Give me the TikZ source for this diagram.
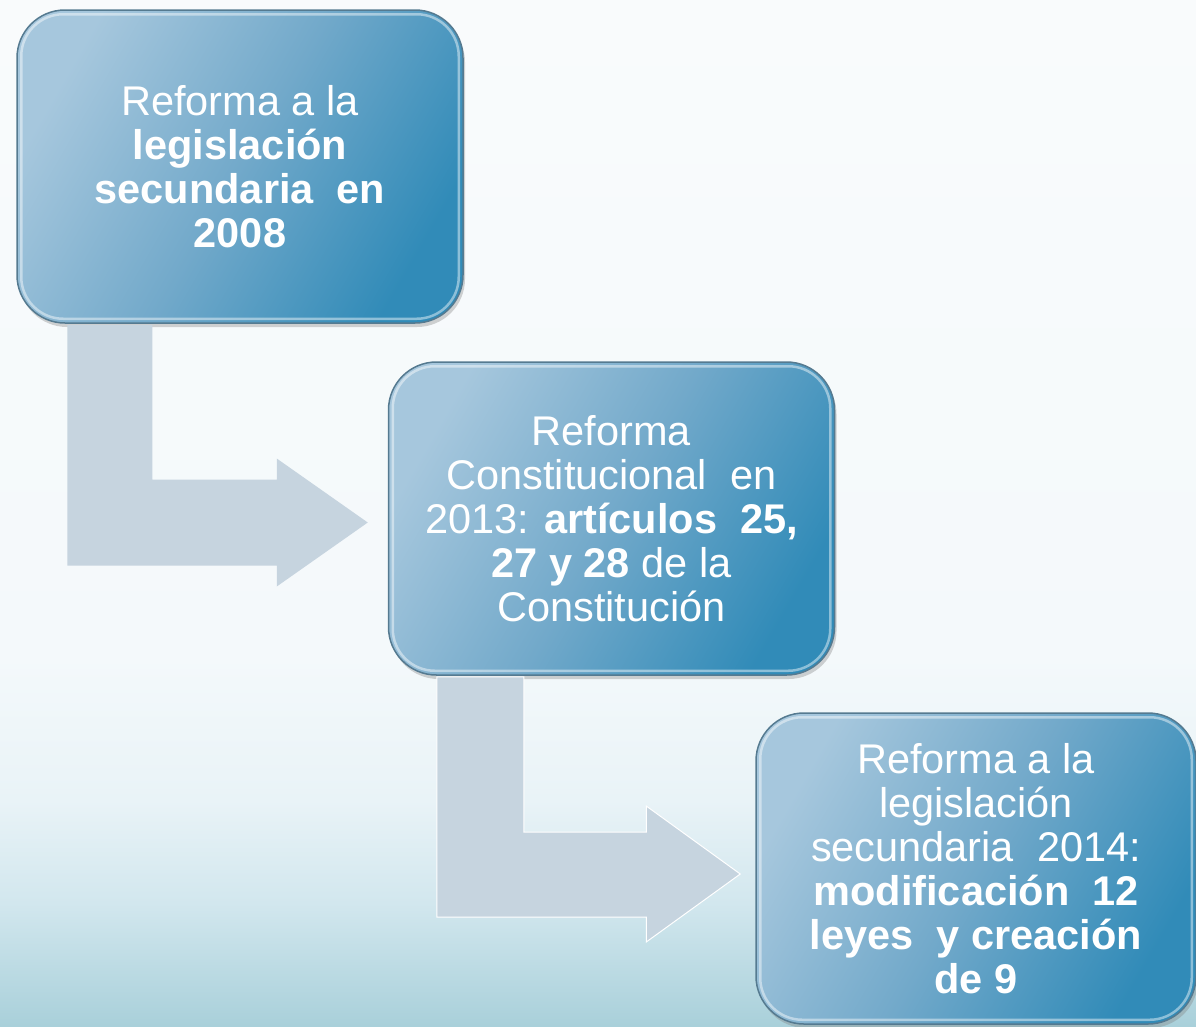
\documentclass[tikz,border=0pt]{standalone}
\usepackage{fontspec}
\setmainfont{Liberation Sans}
\usetikzlibrary{calc,shadows}
\definecolor{bgtop}{HTML}{F9FBFC}
\definecolor{bgmid}{HTML}{F4F9FB}
\definecolor{bglow}{HTML}{E9F3F7}
\definecolor{bglow2}{HTML}{D2E7EE}
\definecolor{bgbot}{HTML}{A9D0DA}
\definecolor{bxlight}{HTML}{A6C7DD}
\definecolor{bxmid}{HTML}{72A9CA}
\definecolor{bxdark}{HTML}{318BB8}
\definecolor{bxedge}{HTML}{557A90}
\definecolor{arrowc}{HTML}{C6D4DF}
\pgfdeclareverticalshading{bgsh}{100bp}{color(0bp)=(bgbot); color(25bp)=(bgbot); color(31bp)=(bglow2); color(36bp)=(bglow); color(43bp)=(bgmid); color(75bp)=(bgtop); color(100bp)=(bgtop)}
\pgfdeclarehorizontalshading{boxsh}{100bp}{color(0bp)=(bxlight); color(25bp)=(bxlight); color(50bp)=(bxmid); color(75bp)=(bxdark); color(100bp)=(bxdark)}
\tikzset{
  stagebox/.style={rectangle, rounded corners=48pt, minimum width=446pt, minimum height=313pt,
    inner sep=0pt, shade, shading=boxsh, shading angle=-30, draw=bxedge, line width=1.5pt,
    drop shadow={shadow xshift=2pt, shadow yshift=-4pt, opacity=.35},
    text=white, align=center, font=\fontsize{41.5}{44}\selectfont},
  bevel/.style={white, opacity=.45, line width=2.5pt, rounded corners=42pt},
  bentarrow/.style={fill=arrowc}
}
\begin{document}
\begin{tikzpicture}[x=1pt,y=-1pt]
\useasboundingbox (0,0) rectangle (1196,1026);
\clip (0,0) rectangle (1196,1026);
\shade[shading=bgsh] (0,0) rectangle (1196,1026);

\node[stagebox] (b1) at (240,166.5) {Reforma a la\\ \textbf{legislación}\\ \textbf{secundaria\ \ en}\\ \textbf{2008}};
\node[stagebox] (b2) at (611.5,518.5) {Reforma\\ Constitucional\ \ en\\ 2013: \textbf{artículos\ \ 25,}\\ \textbf{27 y 28} de la\\ Constitución};
\node[stagebox, minimum width=440pt, minimum height=311pt] (b3) at (976,868.5) {Reforma a la\\ legislación\\ secundaria\ \ 2014:\\ \textbf{modificación\ \ 12}\\ \textbf{leyes\ \ y creación}\\ \textbf{de 9}};

\foreach \b in {b1,b2,b3}
  \draw[bevel] ($(\b.south west)+(5,-5)$) rectangle ($(\b.north east)+(-5,5)$);

% bent arrow 1 -> 2
\fill[bentarrow] let \p1=($(b1.south west)+(51,1)$), \p2=($(b2.west)+(-20,4)$) in
  (\p1) -- (\x1+85pt,\y1) -- (\x1+85pt,\y2+43pt) -- (\x2-91pt,\y2+43pt) -- (\x2-91pt,\y2+64pt)
  -- (\p2) -- (\x2-91pt,\y2-64pt) -- (\x2-91pt,\y2-43pt) -- (\x1,\y2-43pt) -- cycle;
% bent arrow 2 -> 3
\filldraw[bentarrow, draw=white, line width=1pt] let \p1=($(b2.south west)+(49,1)$), \p2=($(b3.west)+(-15,5.5)$) in
  (\p1) -- (\x1+87pt,\y1) -- (\x1+87pt,\y2+42pt) -- (\x2-94pt,\y2+42pt) -- (\x2-94pt,\y2+68pt)
  -- (\p2) -- (\x2-94pt,\y2-68pt) -- (\x2-94pt,\y2-43pt) -- (\x1,\y2-43pt) -- cycle;
\end{tikzpicture}
\end{document}
